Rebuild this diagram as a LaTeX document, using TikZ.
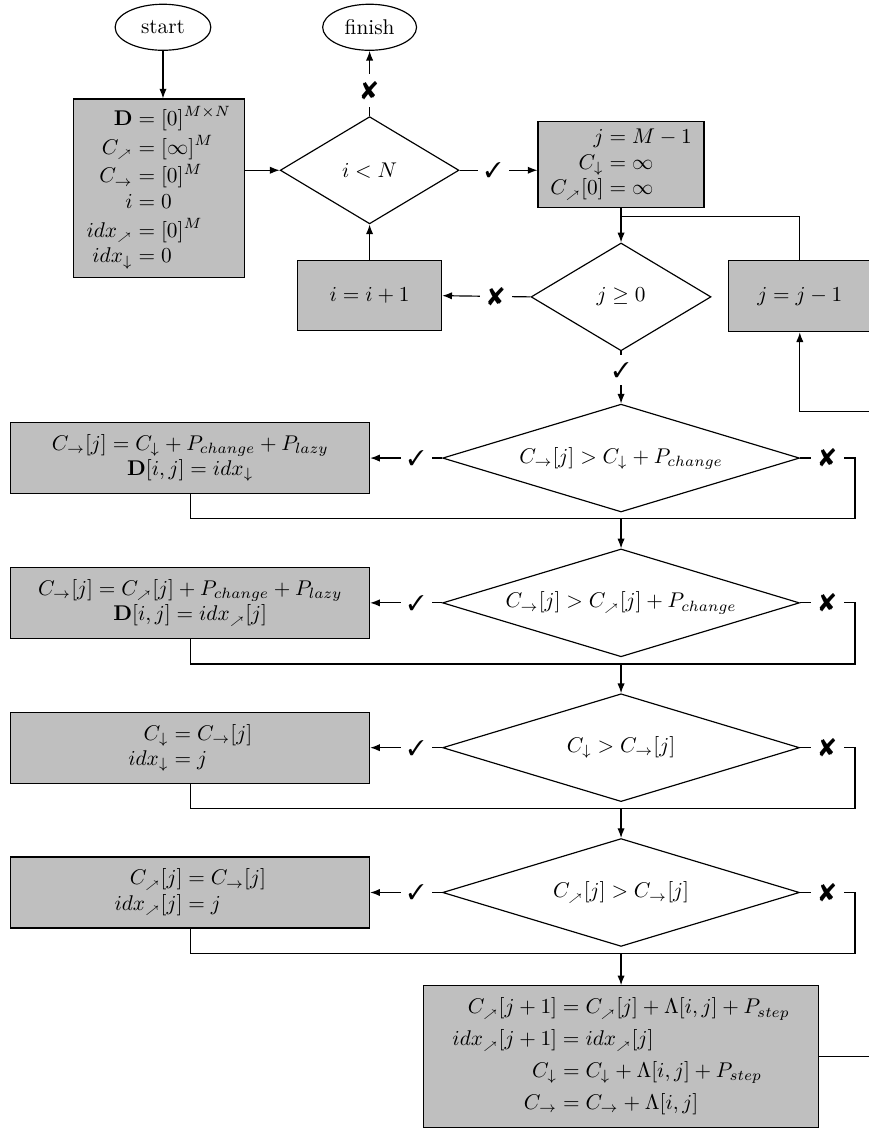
\documentclass[tikz,border=0pt]{standalone}
\usepackage{amsmath}
\usepackage{pifont}
\usetikzlibrary{shapes.geometric, arrows.meta}

% equations lined up on '=' with no extra gap between the rows
\newcommand{\eqblock}[1]{{\setlength{\jot}{0pt}$\begin{aligned}#1\end{aligned}$}}
\newcommand{\diag}{{\scriptscriptstyle\nearrow}}
\newcommand{\yes}{\ding{51}}
\newcommand{\no}{{\large\ding{56}}}

\begin{document}
\begin{tikzpicture}[>={Latex[length=1.6mm, width=1.2mm]}, line width=0.55pt,
    term/.style={draw=black, ellipse, inner sep=0pt},
    proc/.style={draw=black, fill=lightgray, inner sep=0pt, align=center},
    cond/.style={draw=black, fill=white, diamond, inner sep=0pt},
    flow/.style={->, draw=black},
    yesno/.style={fill=white, inner sep=3.5pt}]

  \useasboundingbox (0,0) rectangle (14.34,-18.65);
  \clip (0,0) rectangle (14.34,-18.65);

  % ---- outer loop over i
  \node[term, minimum width=1.58cm, minimum height=0.76cm] (start) at (2.69,-0.45) {start};
  \node[term, minimum width=1.55cm, minimum height=0.76cm] (finish) at (6.10,-0.45) {finish};
  \node[proc, minimum width=2.82cm, minimum height=2.95cm] (init) at (2.62,-3.11)
    {\eqblock{\mathbf{D} &= [0]^{M\times N}\\
              C_{\diag} &= [\infty]^M\\
              C_{\rightarrow} &= [0]^M\\
              i &= 0\\
              idx_{\diag} &= [0]^M\\
              idx_{\downarrow} &= 0}};
  \node[cond, aspect=1.67, minimum width=2.95cm, minimum height=1.77cm] (iN) at (6.10,-2.81) {$i < N$};
  \node[proc, minimum width=2.38cm, minimum height=1.16cm] (inc) at (6.10,-4.88) {$i = i + 1$};
  \node[proc, minimum width=2.74cm, minimum height=1.42cm] (jinit) at (10.25,-2.71)
    {\eqblock{j &= M - 1\\
              C_{\downarrow} &= \infty\\
              C_{\diag}[0] &= \infty}};

  \draw[flow] (start.south) -- (start.south |- init.north);
  \draw[flow] (init.east |- iN.west) -- (iN.west);
  \draw[flow] (iN.north) -- node[yesno, pos=0.39] {\no} (finish.south);
  \draw[flow] (iN.east) -- node[yesno, pos=0.43] {\yes} (jinit.west |- iN.east);
  \draw[flow] (inc.north) -- (iN.south);

  % ---- inner loop over j
  \node[cond, aspect=1.67, minimum width=2.97cm, minimum height=1.78cm] (jge) at (10.25,-4.90) {$j \geq 0$};
  \node[proc, minimum width=2.34cm, minimum height=1.17cm] (jdec) at (13.20,-4.89) {$j = j - 1$};
  \coordinate (jt) at (10.25,-3.58);

  \draw[flow] (jinit.south) -- (jge.north);
  \draw (jdec.north) |- (jt);
  \draw[flow] (jge.west) -- node[yesno, pos=0.39] {\no} (inc.east);

  % ---- the four comparisons
  \node[cond, aspect=3.3, minimum width=5.89cm, minimum height=1.78cm] (D1) at (10.25,-7.56)
    {$C_{\rightarrow}[j] > C_{\downarrow} + P_{change}$};
  \node[cond, aspect=3.3, minimum width=5.89cm, minimum height=1.78cm] (D2) at (10.25,-9.95)
    {$C_{\rightarrow}[j] > C_{\diag}[j] + P_{change}$};
  \node[cond, aspect=3.3, minimum width=5.89cm, minimum height=1.78cm] (D3) at (10.25,-12.34)
    {$C_{\downarrow} > C_{\rightarrow}[j]$};
  \node[cond, aspect=3.3, minimum width=5.89cm, minimum height=1.78cm] (D4) at (10.25,-14.73)
    {$C_{\diag}[j] > C_{\rightarrow}[j]$};

  \node[proc, minimum width=5.92cm, minimum height=1.17cm] (B1) at (3.14,-7.56)
    {$C_{\rightarrow}[j] = C_{\downarrow} + P_{change} + P_{lazy}$\\
     $\mathbf{D}[i,j] = idx_{\downarrow}$};
  \node[proc, minimum width=5.92cm, minimum height=1.17cm] (B2) at (3.14,-9.95)
    {$C_{\rightarrow}[j] = C_{\diag}[j] + P_{change} + P_{lazy}$\\
     $\mathbf{D}[i,j] = idx_{\diag}[j]$};
  \node[proc, minimum width=5.92cm, minimum height=1.17cm] (B3) at (3.14,-12.34)
    {\eqblock{C_{\downarrow} &= C_{\rightarrow}[j]\\
              idx_{\downarrow} &= j}};
  \node[proc, minimum width=5.92cm, minimum height=1.17cm] (B4) at (3.14,-14.73)
    {\eqblock{C_{\diag}[j] &= C_{\rightarrow}[j]\\
              idx_{\diag}[j] &= j}};

  \node[proc, minimum width=6.53cm, minimum height=2.34cm] (last) at (10.25,-17.44)
    {$\begin{aligned}
      C_{\diag}[j+1] &= C_{\diag}[j] + \Lambda[i,j] + P_{step}\\
      idx_{\diag}[j+1] &= idx_{\diag}[j]\\
      C_{\downarrow} &= C_{\downarrow} + \Lambda[i,j] + P_{step}\\
      C_{\rightarrow} &= C_{\rightarrow} + \Lambda[i,j]
    \end{aligned}$};

  % ---- where the yes and no branches meet again
  \coordinate (m1) at (10.25,-8.56);
  \coordinate (m2) at (10.25,-10.96);
  \coordinate (m3) at (10.25,-13.35);
  \coordinate (m4) at (10.25,-15.74);
  \coordinate (r1) at (14.11,-7.56);
  \coordinate (r2) at (14.11,-9.95);
  \coordinate (r3) at (14.11,-12.34);
  \coordinate (r4) at (14.11,-14.73);

  \draw[flow] (jge.south) -- node[yesno, pos=0.36] {\yes} (D1.north);

  \draw[flow] (D1.west) -- node[yesno, pos=0.36] {\yes} (B1.east);
  \draw (D1.east) -- node[yesno, pos=0.5] {\no} (r1) |- (m1);
  \draw (B1.south) |- (m1);
  \draw[flow] (m1) -- (D2.north);

  \draw[flow] (D2.west) -- node[yesno, pos=0.36] {\yes} (B2.east);
  \draw (D2.east) -- node[yesno, pos=0.5] {\no} (r2) |- (m2);
  \draw (B2.south) |- (m2);
  \draw[flow] (m2) -- (D3.north);

  \draw[flow] (D3.west) -- node[yesno, pos=0.36] {\yes} (B3.east);
  \draw (D3.east) -- node[yesno, pos=0.5] {\no} (r3) |- (m3);
  \draw (B3.south) |- (m3);
  \draw[flow] (m3) -- (D4.north);

  \draw[flow] (D4.west) -- node[yesno, pos=0.36] {\yes} (B4.east);
  \draw (D4.east) -- node[yesno, pos=0.5] {\no} (r4) |- (m4);
  \draw (B4.south) |- (m4);
  \draw[flow] (m4) -- (last.north);

  % ---- back to j = j - 1, running out past the right edge
  \coordinate (lc) at (14.60,-6.79);
  \draw[flow] (last.east) -| (lc) -| (jdec.south);
\end{tikzpicture}
\end{document}
